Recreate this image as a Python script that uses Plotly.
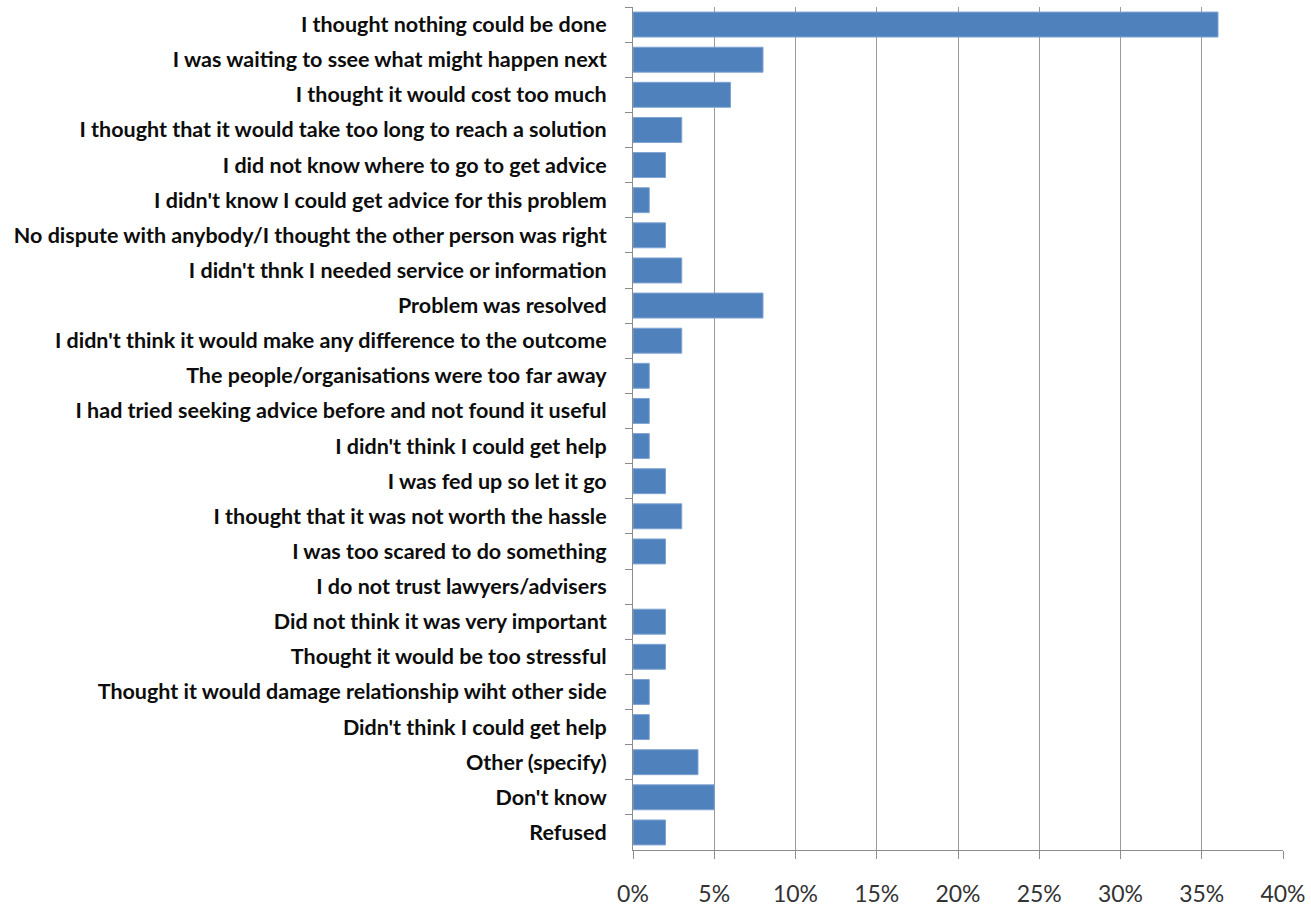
import plotly.graph_objects as go

reasons = [
    "I thought nothing could be done",
    "I was waiting to ssee what might happen next",
    "I thought it would cost too much",
    "I thought that it would take too long to reach a solution",
    "I did not know where to go to get advice",
    "I didn't know I could get advice for this problem",
    "No dispute with anybody/I thought the other person was right",
    "I didn't thnk I needed service or information",
    "Problem was resolved",
    "I didn't think it would make any difference to the outcome",
    "The people/organisations were too far away",
    "I had tried seeking advice before and not found it useful",
    "I didn't think I could get help",
    "I was fed up so let it go",
    "I thought that it was not worth the hassle",
    "I was too scared to do something",
    "I do not trust lawyers/advisers",
    "Did not think it was very important",
    "Thought it would be too stressful",
    "Thought it would damage relationship wiht other side",
    "Didn't think I could get help",
    "Other (specify)",
    "Don't know",
    "Refused",
]
shares = [36, 8, 6, 3, 2, 1, 2, 3, 8, 3, 1, 1, 1, 2, 3, 2, 0, 2, 2, 1, 1, 4, 5, 2]

x_ticks = [0, 5, 10, 15, 20, 25, 30, 35, 40]
x_tick_text = [f"{v}%" for v in x_ticks]

# no outline on empty bars so a zero share leaves no sliver
edge_widths = [1 if v > 0 else 0 for v in shares]

fig = go.Figure(
    go.Bar(
        x=shares,
        y=reasons,
        orientation="h",
        marker=dict(color="#4F81BD", line=dict(color="#7FA3D1", width=edge_widths)),
        hoverinfo="x+y",
    )
)

fig.update_layout(
    width=1311,
    height=907,
    margin=dict(l=633, r=28, t=7, b=57),
    paper_bgcolor="white",
    plot_bgcolor="white",
    bargap=0.29,
    showlegend=False,
    font=dict(family="Lato, Open Sans, sans-serif", color="#1a1a1a"),
)

fig.update_xaxes(
    range=[0, 40],
    tickvals=x_ticks,
    ticktext=x_tick_text,
    showgrid=True,
    gridcolor="#9a9a9a",
    gridwidth=1,
    showline=True,
    linecolor="#8c8c8c",
    linewidth=1,
    ticks="outside",
    ticklen=8,
    tickcolor="#8c8c8c",
    ticklabelstandoff=15,
    tickfont=dict(size=23, color="#333333", family="Lato, Open Sans, sans-serif"),
    zeroline=False,
    automargin=False,
    fixedrange=True,
)

fig.update_yaxes(
    autorange="reversed",
    type="category",
    showgrid=False,
    showline=True,
    linecolor="#8c8c8c",
    linewidth=1,
    ticks="outside",
    tickson="boundaries",
    ticklen=7,
    tickcolor="#8c8c8c",
    ticklabelstandoff=21,
    tickfont=dict(size=21.5, color="#0d0d0d", family="Lato, Open Sans, sans-serif", weight="bold"),
    automargin=False,
    fixedrange=True,
)

fig.write_html("out.html")
